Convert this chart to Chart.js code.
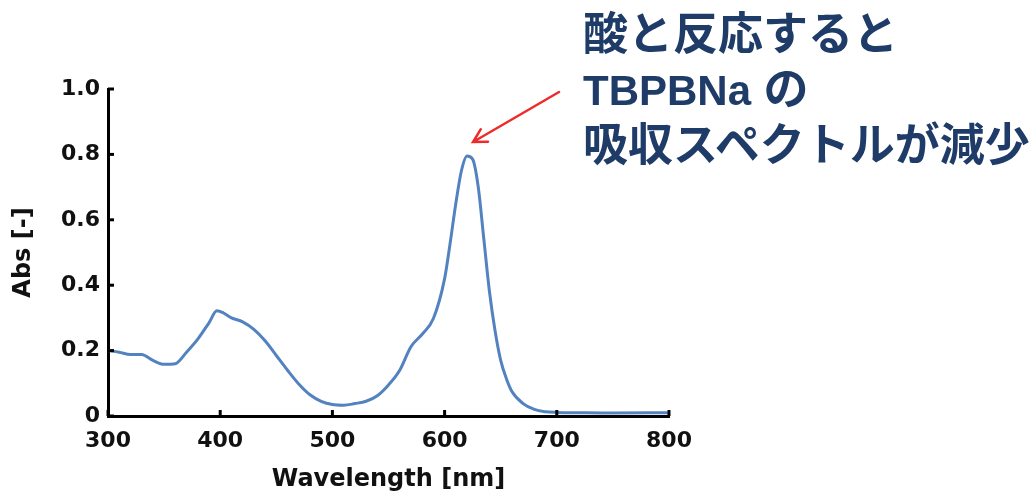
<!DOCTYPE html>
<html>
<head>
<meta charset="utf-8">
<script src="https://cdn.jsdelivr.net/npm/chart.js@4/dist/chart.umd.min.js"></script>
<style>
  html, body { margin: 0; padding: 0; background: #ffffff; }
  #wrap { position: relative; width: 1036px; height: 497px; overflow: hidden; }
  #chart { position: absolute; left: 0; top: 0; }
  #note {
    position: absolute; left: 583px; top: 7px;
    font-family: "Liberation Sans", "Noto Sans CJK JP", sans-serif;
    font-weight: 700; font-size: 45px; line-height: 55px;
    color: #1f3c68; white-space: nowrap;
  }
  #note .lat { font-size: 42px; }
</style>
</head>
<body>
<div id="wrap">
  <canvas id="chart" width="1036" height="497"></canvas>
  <div id="note">酸と反応すると<br><span class="lat">TBPBNa</span> の<br>吸収スペクトルが減少</div>
</div>
<script>
// ---- data ----
const wavelengths = [300, 310, 320, 330, 340, 350, 360, 370, 380, 390, 397, 403, 410, 420, 430, 440, 450, 460, 470, 480, 490, 500, 510, 520, 530, 540, 550, 560, 570, 580, 590, 600, 605, 610, 615, 620, 625, 630, 635, 640, 645, 650, 655, 660, 670, 680, 690, 700, 720, 750, 800];
const absorbance  = [0.200, 0.195, 0.188, 0.188, 0.170, 0.158, 0.160, 0.195, 0.235, 0.285, 0.322, 0.315, 0.300, 0.288, 0.265, 0.230, 0.185, 0.140, 0.098, 0.065, 0.045, 0.035, 0.033, 0.038, 0.045, 0.062, 0.095, 0.140, 0.212, 0.250, 0.298, 0.420, 0.530, 0.650, 0.750, 0.795, 0.785, 0.700, 0.540, 0.380, 0.260, 0.170, 0.115, 0.075, 0.038, 0.020, 0.013, 0.011, 0.010, 0.009, 0.010];
const xTickValues = [300, 400, 500, 600, 700, 800];
const xTickLabels = ['300', '400', '500', '600', '700', '800'];
const yTickValues = [0, 0.2, 0.4, 0.6, 0.8, 1.0];
const yTickLabels = ['0', '0.2', '0.4', '0.6', '0.8', '1.0'];
const xTitle = 'Wavelength [nm]';
const yTitle = 'Abs [-]';

const points = wavelengths.map((w, i) => ({ x: w, y: absorbance[i] }));

const FONT = '"DejaVu Sans", "Liberation Sans", sans-serif';

const innerTicks = {
  id: 'innerTicks',
  afterDraw(chart) {
    const ctx = chart.ctx;
    const xs = chart.scales.x, ys = chart.scales.y;
    const len = 6;
    ctx.save();
    ctx.strokeStyle = '#000';
    ctx.lineWidth = 3;
    ctx.lineCap = 'butt';
    xs.ticks.forEach(t => {
      const px = xs.getPixelForValue(t.value);
      ctx.beginPath();
      ctx.moveTo(px, xs.top);
      ctx.lineTo(px, xs.top - len);
      ctx.stroke();
    });
    ys.ticks.forEach(t => {
      const py = ys.getPixelForValue(t.value);
      ctx.beginPath();
      ctx.moveTo(ys.right, py);
      ctx.lineTo(ys.right + len, py);
      ctx.stroke();
    });
    ctx.restore();
  }
};

const arrow = {
  id: 'arrow',
  afterDraw(chart) {
    const xs = chart.scales.x, ys = chart.scales.y;
    let im = 0;
    absorbance.forEach((v, i) => { if (v > absorbance[im]) im = i; });
    const tipX = xs.getPixelForValue(wavelengths[im]) + 6;
    const tipY = ys.getPixelForValue(absorbance[im]) - 14;
    const startX = tipX + 86, startY = tipY - 50;
    const ang = Math.atan2(startY - tipY, startX - tipX);
    const ctx = chart.ctx;
    ctx.save();
    ctx.strokeStyle = '#ee2b2b';
    ctx.lineWidth = 2.5;
    ctx.lineCap = 'round';
    ctx.beginPath();
    ctx.moveTo(startX, startY);
    ctx.lineTo(tipX, tipY);
    const hl = 15, spread = 0.5;
    ctx.moveTo(tipX + hl * Math.cos(ang - spread), tipY + hl * Math.sin(ang - spread));
    ctx.lineTo(tipX, tipY);
    ctx.lineTo(tipX + hl * Math.cos(ang + spread), tipY + hl * Math.sin(ang + spread));
    ctx.stroke();
    ctx.restore();
  }
};

new Chart(document.getElementById('chart'), {
  type: 'line',
  data: {
    datasets: [{
      data: points,
      borderColor: '#5282bf',
      borderWidth: 3,
      pointRadius: 0,
      cubicInterpolationMode: 'monotone',
      fill: false
    }]
  },
  options: {
    responsive: false,
    animation: false,
    events: [],
    layout: { padding: { left: 0, right: 367, top: 89, bottom: 3 } },
    plugins: { legend: { display: false }, tooltip: { enabled: false } },
    scales: {
      x: {
        type: 'linear',
        min: 300, max: 800,
        afterBuildTicks: s => { s.ticks = xTickValues.map(v => ({ value: v })); },
        afterFit: s => { s.height = 78; },
        ticks: {
          callback: (v) => xTickLabels[xTickValues.indexOf(v)],
          color: '#111', padding: 12,
          font: { family: FONT, size: 22, weight: 'bold' },
          maxRotation: 0
        },
        grid: { display: true, drawOnChartArea: false, drawTicks: false },
        border: { display: true, color: '#000', width: 3 },
        title: {
          display: true, text: xTitle, color: '#111',
          font: { family: FONT, size: 24, weight: 'bold' },
          padding: { top: 0, bottom: 0 }
        }
      },
      y: {
        type: 'linear',
        min: 0, max: 1,
        afterBuildTicks: s => { s.ticks = yTickValues.map(v => ({ value: v })); },
        afterFit: s => { s.width = 108; },
        ticks: {
          callback: (v) => yTickLabels[yTickValues.findIndex(t => Math.abs(t - v) < 1e-9)],
          color: '#111', padding: 8,
          font: { family: FONT, size: 22, weight: 'bold' }
        },
        grid: { display: true, drawOnChartArea: false, drawTicks: false },
        border: { display: true, color: '#000', width: 3 },
        title: {
          display: true, text: yTitle, color: '#111',
          font: { family: FONT, size: 24, weight: 'bold' },
          padding: { top: 9, bottom: 0 }
        }
      }
    }
  },
  plugins: [innerTicks, arrow]
});
</script>
</body>
</html>
